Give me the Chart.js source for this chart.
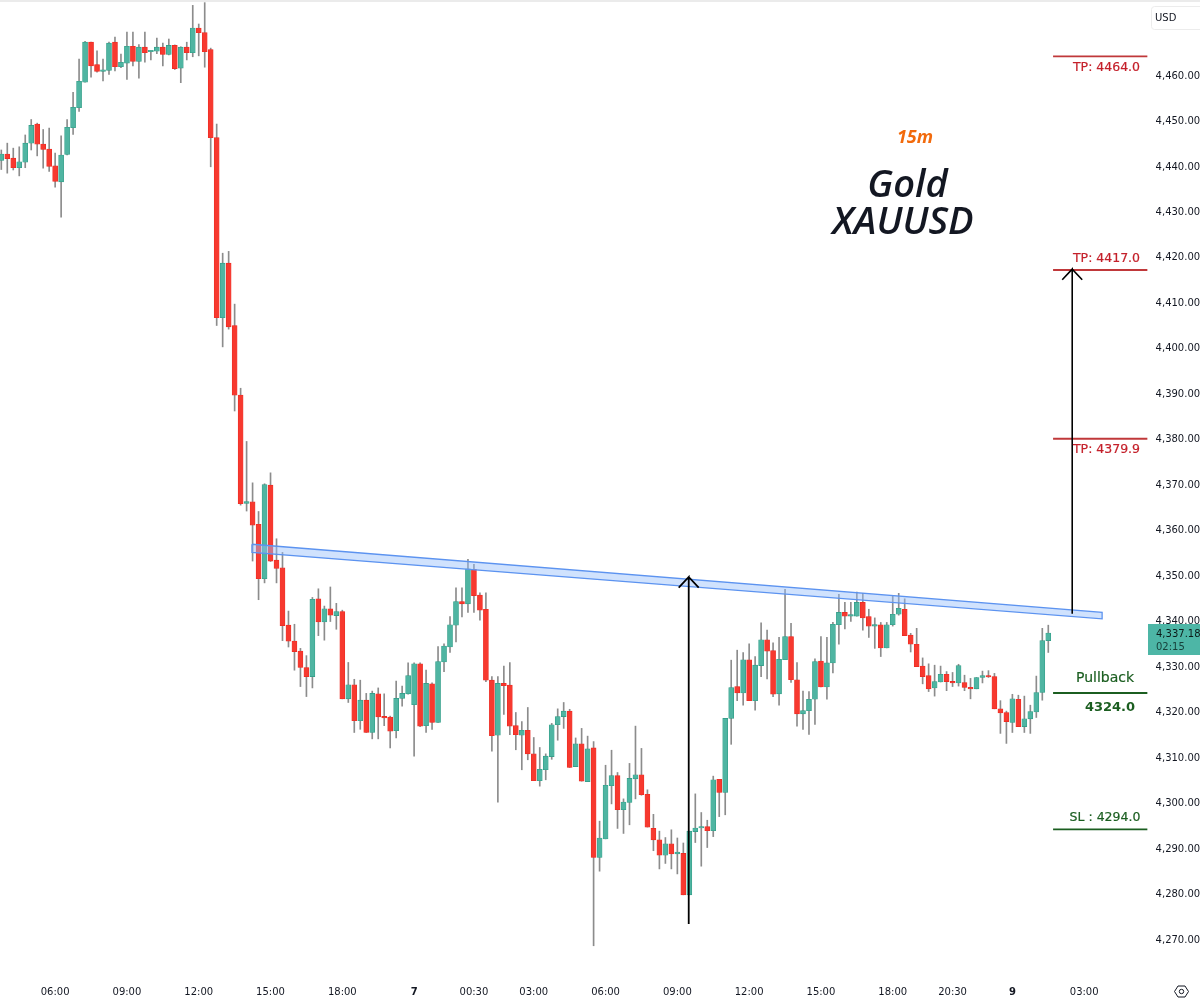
<!DOCTYPE html>
<html>
<head>
<meta charset="utf-8">
<title>Gold XAUUSD 15m</title>
<style>
  html, body { margin: 0; padding: 0; background: #fff; }
  canvas { display: block; }
</style>
<script src="https://cdn.jsdelivr.net/npm/chart.js@4"></script>
</head>
<body>
<canvas id="chart" width="1200" height="1000"></canvas>
<script>
// 15 minute candles
const opens = [
  4441.1,4442.5,4441.6,4439.5,4440.7,4444.9,4449.1,4444.7,4443.6,4439.9,
  4436.4,4442.4,4448.3,4452.7,4458.3,4467.1,4462.2,4460.7,4460.9,4467.1,
  4461.7,4462.5,4466.2,4462.9,4466.0,4465.0,4465.1,4466.0,4464.4,4466.4,
  4461.4,4466.0,4464.8,4470.2,4469.2,4465.5,4446.1,4406.5,4418.5,4404.8,
  4389.5,4365.7,4366.0,4361.1,4349.1,4369.7,4353.2,4351.5,4338.9,4335.4,
  4333.2,4329.6,4327.6,4344.7,4339.6,4342.5,4341.0,4341.9,4322.7,4325.8,
  4317.9,4322.4,4315.3,4323.8,4318.8,4318.7,4315.7,4322.8,4323.8,4321.4,
  4330.4,4316.8,4326.0,4317.5,4330.8,4334.1,4338.9,4344.1,4343.6,4351.2,
  4345.5,4342.4,4326.8,4314.7,4326.1,4325.7,4316.8,4314.7,4315.8,4310.6,
  4304.7,4307.1,4310.0,4317.0,4318.8,4320.0,4307.8,4312.8,4304.5,4311.9,
  4287.8,4291.9,4303.6,4305.8,4298.3,4299.9,4305.1,4306.0,4301.7,4294.2,
  4291.7,4288.3,4290.8,4288.6,4288.7,4279.6,4293.5,4294.3,4294.6,4293.7,
  4305.0,4302.1,4318.4,4325.4,4324.0,4331.3,4322.3,4330.0,4335.7,4333.3,
  4323.8,4331.3,4336.4,4326.9,4319.4,4320.1,4322.6,4331.0,4325.3,4330.6,
  4339.0,4341.7,4340.9,4340.9,4343.9,4340.8,4338.7,4339.0,4333.9,4339.0,
  4341.3,4342.4,4336.7,4334.7,4329.9,4327.8,4325.1,4326.4,4328.1,4326.5,
  4326.2,4326.3,4325.2,4324.9,4327.4,4327.7,4327.6,4320.5,4319.7,4317.5,
  4322.6,4316.6,4318.3,4319.8,4324.1,4335.5
];
const closes = [
  4442.5,4441.5,4439.5,4440.8,4444.9,4448.8,4444.7,4443.5,4439.8,4436.5,
  4442.3,4448.4,4452.8,4458.5,4467.1,4461.9,4460.7,4461.0,4466.9,4461.7,
  4462.7,4466.2,4462.9,4466.0,4464.8,4465.2,4466.0,4464.4,4466.4,4461.3,
  4466.0,4464.8,4470.2,4469.2,4465.0,4446.1,4406.5,4418.5,4404.5,4389.5,
  4365.6,4366.1,4360.9,4349.1,4369.8,4353.0,4351.4,4338.8,4335.4,4333.1,
  4329.6,4327.6,4344.6,4339.6,4342.5,4341.1,4341.9,4322.7,4325.8,4317.9,
  4322.4,4315.3,4323.9,4318.7,4318.5,4315.6,4322.8,4323.9,4327.8,4330.4,
  4316.7,4326.1,4317.5,4330.9,4334.3,4339.0,4344.1,4343.6,4351.3,4345.4,
  4342.2,4326.8,4314.6,4326.1,4325.6,4316.7,4314.8,4315.8,4310.6,4304.7,
  4307.2,4310.1,4317.0,4318.8,4320.0,4307.6,4312.8,4304.6,4311.7,4287.8,
  4292.1,4303.7,4305.8,4298.3,4300.0,4305.2,4306.0,4301.6,4294.5,4291.7,
  4288.3,4290.8,4288.6,4289.0,4279.6,4293.6,4294.3,4294.6,4293.7,4304.9,
  4302.1,4318.4,4325.2,4324.0,4331.3,4322.3,4330.1,4335.7,4333.2,4323.7,
  4331.4,4336.4,4326.9,4319.4,4320.1,4322.6,4330.9,4325.3,4330.6,4339.1,
  4341.7,4340.9,4341.1,4343.9,4340.5,4338.7,4338.9,4333.9,4339.0,4341.3,
  4342.6,4336.6,4334.7,4329.8,4327.6,4324.9,4326.5,4328.1,4326.5,4326.2,
  4330.0,4325.2,4324.9,4327.4,4327.8,4327.5,4320.5,4319.6,4317.7,4322.7,
  4316.6,4318.3,4319.9,4324.1,4335.5,4337.18
];
const highs = [
  4443.4,4444.9,4443.8,4444.1,4446.7,4450.1,4449.3,4447.9,4448.2,4442.7,
  4446.5,4450.1,4456.1,4463.4,4467.3,4467.1,4465.2,4463.4,4467.1,4468.2,
  4464.5,4469.3,4469.3,4466.6,4469.3,4465.2,4468.0,4466.9,4467.8,4466.5,
  4466.1,4467.1,4475.2,4471.1,4475.8,4465.8,4449.1,4420.7,4421.1,4409.5,
  4391.0,4379.3,4370.2,4363.9,4370.0,4372.4,4357.9,4354.9,4342.0,4339.1,
  4333.8,4332.2,4345.0,4346.9,4343.1,4347.3,4343.7,4342.2,4330.7,4327.0,
  4326.8,4323.9,4324.4,4325.1,4323.8,4318.9,4326.6,4325.5,4330.6,4330.6,
  4330.6,4329.0,4326.2,4334.2,4334.8,4340.8,4347.1,4347.1,4353.4,4352.3,
  4346.0,4346.0,4327.6,4327.6,4329.9,4330.7,4319.7,4317.7,4320.8,4314.2,
  4312.0,4310.6,4317.3,4320.5,4321.9,4320.4,4314.1,4316.2,4314.5,4313.3,
  4295.8,4308.1,4311.4,4306.5,4300.7,4308.5,4316.7,4311.8,4302.7,4297.3,
  4293.6,4292.2,4293.9,4292.1,4291.0,4293.6,4301.8,4297.7,4296.0,4305.7,
  4305.0,4318.4,4331.2,4333.4,4332.9,4334.8,4332.0,4339.4,4337.8,4335.0,
  4336.2,4346.8,4339.3,4330.7,4324.4,4324.3,4331.5,4336.4,4336.2,4339.5,
  4345.7,4343.9,4343.9,4346.2,4345.9,4342.4,4340.5,4339.5,4339.5,4345.4,
  4345.9,4344.7,4337.1,4338.2,4331.7,4330.4,4330.1,4329.9,4328.7,4328.5,
  4330.3,4327.9,4327.2,4327.4,4328.8,4328.9,4328.3,4322.3,4320.0,4323.7,
  4323.5,4323.3,4321.3,4327.7,4338.2,4338.9
];
const lows = [
  4439.1,4438.3,4439.0,4437.7,4439.5,4443.4,4442.1,4439.4,4438.7,4435.2,
  4428.6,4442.3,4446.8,4451.9,4458.3,4459.4,4460.5,4458.6,4460.0,4460.8,
  4461.5,4458.9,4461.9,4459.2,4462.7,4463.2,4464.6,4461.9,4464.3,4461.1,
  4458.2,4463.2,4463.9,4464.1,4461.6,4439.7,4404.8,4400.1,4404.0,4386.0,
  4365.3,4364.0,4353.0,4344.5,4348.2,4352.9,4348.2,4335.5,4334.1,4329.0,
  4325.4,4323.2,4325.1,4336.6,4335.6,4339.7,4338.0,4322.7,4321.9,4315.3,
  4316.0,4315.3,4313.9,4313.9,4316.8,4311.9,4314.1,4321.1,4323.7,4310.1,
  4316.6,4315.3,4316.0,4317.5,4328.7,4332.9,4335.2,4340.7,4341.7,4341.7,
  4340.0,4326.5,4311.2,4300.0,4319.3,4314.8,4311.5,4307.1,4309.3,4304.7,
  4303.5,4304.9,4309.4,4313.6,4316.2,4307.6,4307.8,4304.6,4304.5,4268.4,
  4284.8,4291.9,4299.6,4294.2,4293.1,4295.0,4300.7,4301.5,4294.5,4289.3,
  4285.3,4286.5,4285.3,4284.2,4279.6,4279.6,4291.1,4285.9,4290.0,4292.4,
  4296.8,4297.2,4312.7,4322.3,4321.3,4322.3,4320.2,4327.6,4327.1,4323.2,
  4321.3,4331.3,4326.3,4316.7,4316.0,4314.9,4317.1,4325.3,4322.6,4328.4,
  4334.7,4338.1,4339.7,4340.9,4337.8,4336.2,4333.8,4332.0,4333.9,4338.7,
  4341.1,4336.6,4333.0,4329.8,4326.0,4324.3,4323.3,4326.4,4324.5,4325.4,
  4325.5,4324.5,4322.7,4324.9,4326.2,4327.4,4320.5,4315.1,4312.9,4315.3,
  4316.6,4315.3,4315.1,4318.6,4322.4,4332.9
];

// time axis: candle number of each label
const timeTicks = [9, 21, 33, 45, 57, 69, 79, 89, 101, 113, 125, 137, 149, 159, 169, 181];
const timeLabels = ['06:00', '09:00', '12:00', '15:00', '18:00', '7', '00:30', '03:00', '06:00', '09:00', '12:00', '15:00', '18:00', '20:30', '9', '03:00'];
const dayTicks = [69, 169];
const priceTicks = [4270, 4280, 4290, 4300, 4310, 4320, 4330, 4340, 4350, 4360, 4370, 4380, 4390, 4400, 4410, 4420, 4430, 4440, 4450, 4460];

// drawings on the chart
const tpLevels = [4464.0, 4417.0, 4379.9];
const pullbackLevel = 4324.0;
const slLevel = 4294.0;
const levelStart = 175.8;
const levelEnd = 191.6;
const lastPrice = '4,337.18';
const countdown = '02:15';

const zoneX = [41.9, 184.0];
const zoneTop = [4356.7, 4341.7];
const zoneBottom = [4354.9, 4340.3];

const arrowX = [114.9, 179.0];
const arrowFrom = [4273.2, 4341.4];
const arrowTo = [4349.5, 4417.2];

const UP = '#4fb5a2';
const UP_EDGE = '#2f9a84';
const DOWN = '#f7392f';
const DOWN_EDGE = '#ea2a22';
const WICK = '#8c8c8c';
const RED_LEVEL = '#c0383a';
const RED_TEXT = '#c4202a';
const GREEN = '#1b5e20';

const candleX = closes.map((c, i) => i);
const isUp = closes.map((c, i) => c >= opens[i]);

const textNotes = [
  { text: '15m', x: 915, y: 137.5, font: 'italic 700 18px "Open Sans"', color: '#f26a0c' },
  { text: 'Gold', x: 907.5, y: 186, font: 'italic 600 38px "Open Sans"', color: '#131722' },
  { text: 'XAUUSD', x: 903, y: 223, font: 'italic 600 38px "Open Sans"', color: '#131722' },
  { text: 'TP: 4464.0', x: 1106.5, y: 67.5, font: '12.5px "DejaVu Sans"', color: RED_TEXT, heavy: true },
  { text: 'TP: 4417.0', x: 1106.5, y: 259, font: '12.5px "DejaVu Sans"', color: RED_TEXT, heavy: true },
  { text: 'TP: 4379.9', x: 1106.5, y: 450, font: '12.5px "DejaVu Sans"', color: RED_TEXT, heavy: true },
  { text: 'Pullback', x: 1105, y: 678, font: '14px "DejaVu Sans"', color: GREEN, heavy: true },
  { text: '4324.0', x: 1110, y: 708, font: 'bold 13px "DejaVu Sans"', color: GREEN },
  { text: 'SL : 4294.0', x: 1105, y: 818, font: '12.5px "DejaVu Sans"', color: GREEN, heavy: true }
];

// arrow as a single path: shaft, then the two wings of the head
function arrowPoints(n) {
  const x = arrowX[n], from = arrowFrom[n], to = arrowTo[n];
  return [
    { x: x, y: from }, { x: x, y: to },
    { x: x - 1.67, y: to - 2.35 }, { x: x, y: to }, { x: x + 1.67, y: to - 2.35 }
  ];
}

function levelLine(price, color, width) {
  return {
    type: 'line', order: 1, borderColor: color, borderWidth: width, pointRadius: 0,
    data: [{ x: levelStart, y: price }, { x: levelEnd, y: price }]
  };
}

const overlayPlugin = {
  id: 'overlay',
  afterDraw(chart) {
    const ctx = chart.ctx;
    const yScale = chart.scales.y;
    ctx.save();

    // strip along the top of the window
    ctx.fillStyle = '#ebebeb';
    ctx.fillRect(0, 0, 1200, 2);

    // notes written on the chart
    ctx.textAlign = 'center';
    ctx.textBaseline = 'middle';
    textNotes.forEach(n => {
      ctx.font = n.font;
      ctx.fillStyle = n.color;
      ctx.fillText(n.text, n.x, n.y);
      if (n.heavy) {
        ctx.strokeStyle = n.color;
        ctx.lineWidth = 0.2;
        ctx.strokeText(n.text, n.x, n.y);
      }
    });

    // last price tag
    const tagY = yScale.getPixelForValue(closes[closes.length - 1]);
    ctx.fillStyle = '#4db6a6';
    ctx.fillRect(1148, tagY - 9, 52, 31);
    ctx.textAlign = 'left';
    ctx.fillStyle = '#0c1a18';
    ctx.font = '10px "DejaVu Sans"';
    ctx.fillText(lastPrice, 1156, tagY + 1);
    ctx.fillStyle = '#17423c';
    ctx.fillText(countdown, 1156, tagY + 14);

    // currency button
    ctx.fillStyle = '#fff';
    ctx.strokeStyle = '#ececec';
    ctx.lineWidth = 1;
    ctx.beginPath();
    ctx.roundRect(1151.5, 6.5, 60, 23, 3);
    ctx.fill();
    ctx.stroke();
    ctx.fillStyle = '#131722';
    ctx.font = '10px "DejaVu Sans"';
    ctx.fillText('USD', 1155, 18);

    // settings icon
    const cx = 1181.5, cy = 991.5;
    ctx.strokeStyle = '#131722';
    ctx.lineWidth = 1;
    ctx.beginPath();
    [[-7, 0], [-3.5, -5.5], [3.5, -5.5], [7, 0], [3.5, 5.5], [-3.5, 5.5]].forEach((p, i) => {
      if (i === 0) ctx.moveTo(cx + p[0], cy + p[1]);
      else ctx.lineTo(cx + p[0], cy + p[1]);
    });
    ctx.closePath();
    ctx.stroke();
    ctx.beginPath();
    ctx.arc(cx, cy, 2.2, 0, Math.PI * 2);
    ctx.stroke();
    ctx.restore();
  }
};

new Chart(document.getElementById('chart'), {
  type: 'bar',
  data: {
    datasets: [
      {
        type: 'line', order: 0, borderColor: '#000', borderWidth: 1.8, pointRadius: 0,
        data: arrowPoints(0)
      },
      {
        type: 'line', order: 0, borderColor: '#000', borderWidth: 1.6, pointRadius: 0,
        data: arrowPoints(1)
      },
      {
        // outline of the resistance band
        type: 'line', order: 1, borderColor: '#5c93f0', borderWidth: 1.3, pointRadius: 0,
        data: [
          { x: zoneX[0], y: zoneTop[0] }, { x: zoneX[1], y: zoneTop[1] },
          { x: zoneX[1], y: zoneBottom[1] }, { x: zoneX[0], y: zoneBottom[0] },
          { x: zoneX[0], y: zoneTop[0] }
        ]
      },
      {
        type: 'line', order: 2, borderWidth: 0, pointRadius: 0, fill: '+1',
        backgroundColor: 'rgba(150, 190, 250, 0.45)',
        data: [{ x: zoneX[0], y: zoneTop[0] }, { x: zoneX[1], y: zoneTop[1] }]
      },
      {
        type: 'line', order: 2, borderWidth: 0, pointRadius: 0,
        data: [{ x: zoneX[0], y: zoneBottom[0] }, { x: zoneX[1], y: zoneBottom[1] }]
      },
      levelLine(tpLevels[0], RED_LEVEL, 1.8),
      levelLine(tpLevels[1], RED_LEVEL, 1.8),
      levelLine(tpLevels[2], RED_LEVEL, 1.8),
      levelLine(pullbackLevel, GREEN, 2),
      levelLine(slLevel, GREEN, 1.6),
      {
        // bodies
        order: 3, clip: false, grouped: false, barThickness: 5, minBarLength: 1.5,
        borderWidth: 0.6, borderSkipped: false,
        backgroundColor: isUp.map(u => u ? UP : DOWN),
        borderColor: isUp.map(u => u ? UP_EDGE : DOWN_EDGE),
        data: candleX.map(i => ({ x: i, y: [opens[i], closes[i]] }))
      },
      {
        // wicks
        order: 4, clip: false, grouped: false, barThickness: 1,
        backgroundColor: WICK,
        data: candleX.map(i => ({ x: i, y: [lows[i], highs[i]] }))
      }
    ]
  },
  options: {
    responsive: false,
    animation: false,
    devicePixelRatio: 1,
    layout: { padding: { left: 1.3, right: 0, top: 0, bottom: 0 } },
    plugins: { legend: { display: false }, tooltip: { enabled: false } },
    elements: { line: { tension: 0 } },
    scales: {
      x: {
        type: 'linear',
        offset: false,
        min: 0,
        max: 191.6,
        grid: { display: false, drawTicks: false },
        border: { display: false },
        afterBuildTicks: axis => { axis.ticks = timeTicks.map(v => ({ value: v })); },
        afterFit: axis => { axis.height = 25; axis.paddingLeft = 0; axis.paddingRight = 0; },
        ticks: {
          autoSkip: false,
          maxRotation: 0,
          padding: 11,
          color: '#131722',
          font: ctx => ({
            family: '"DejaVu Sans"',
            size: 10,
            weight: ctx.tick && dayTicks.includes(ctx.tick.value) ? 'bold' : 'normal'
          }),
          callback: v => timeLabels[timeTicks.indexOf(v)]
        }
      },
      y: {
        type: 'linear',
        position: 'right',
        min: 4261.97,
        max: 4476.38,
        grid: { display: false, drawTicks: false },
        border: { display: false },
        afterBuildTicks: axis => { axis.ticks = priceTicks.map(v => ({ value: v })); },
        afterFit: axis => { axis.width = 52.4; axis.paddingTop = 0; axis.paddingBottom = 0; },
        ticks: {
          autoSkip: false,
          padding: 8,
          labelOffset: 1.5,
          color: '#131722',
          font: { family: '"DejaVu Sans"', size: 10 },
          callback: v => v.toLocaleString('en-US', { minimumFractionDigits: 2, maximumFractionDigits: 2 })
        }
      }
    }
  },
  plugins: [overlayPlugin]
});
</script>
</body>
</html>
